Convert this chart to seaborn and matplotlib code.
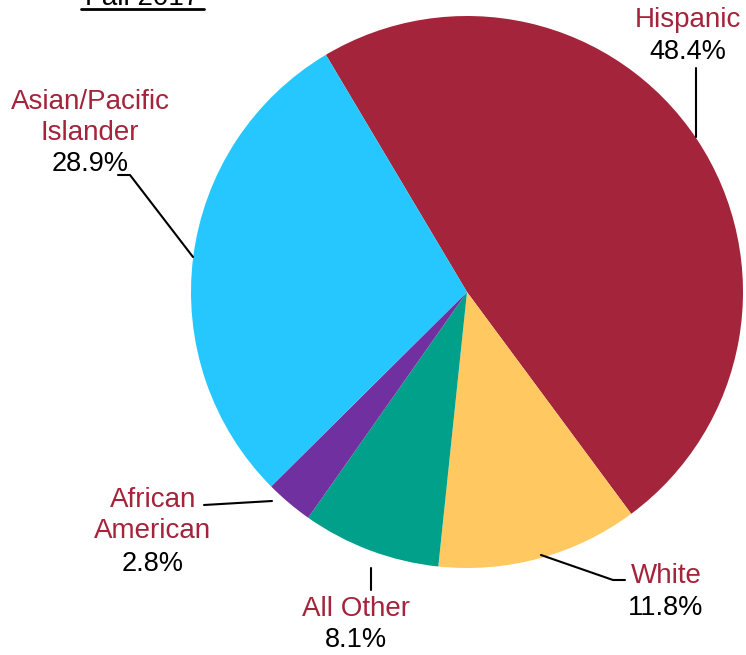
import matplotlib
matplotlib.use("Agg")
import matplotlib.pyplot as plt
import seaborn as sns

# data
groups = ["Hispanic", "White", "All Other", "African\nAmerican", "Asian/Pacific\nIslander"]
shares = [48.4, 11.8, 8.1, 2.8, 28.9]
colors = ["#A3243B", "#FFC861", "#00A08A", "#7030A0", "#26C6FF"]
label_color = "#A3243B"

sns.set_theme(style="white")
plt.rcParams["font.family"] = ["Liberation Sans", "DejaVu Sans"]

W, H = 746, 655
fig = plt.figure(figsize=(W / 100, H / 100), dpi=100)
ax = fig.add_axes([0, 0, 1, 1])

def py(y):
    # pixel row -> data y (y axis points up)
    return H - y

cx, cy, r = 467, py(292), 276
ax.pie(shares, colors=colors, startangle=120.75, counterclock=False,
       center=(cx, cy), radius=r, wedgeprops=dict(linewidth=0))
ax.set_xlim(0, W)
ax.set_ylim(0, H)
ax.set_aspect("equal")
ax.axis("off")

# title (cut off at the top in the original)
ax.text(142, py(5), "Fall 2017", ha="center", va="baseline", fontsize=20, color="black")
ax.plot([81, 204], [py(9), py(9)], color="black", lw=2)

# labels: (x, y of first name line, y of pct)
lab = [
    (688, 20, 52),
    (666, 576, 608),
    (356, 609, 640),
    (153, 500, 564),
    (90, 102, 164),
]
step = 31
for g, s, (x, yn, yp) in zip(groups, shares, lab):
    for i, line in enumerate(g.split("\n")):
        ax.text(x, py(yn + i * step), line, ha="center", va="center",
                fontsize=20, color=label_color)
    ax.text(x, py(yp), f"{s}%", ha="center", va="center", fontsize=19.5, color="black")

# leader lines
lines = [
    [(696, 68), (696, 137)],
    [(541, 555), (613, 580), (625, 580)],
    [(371, 568), (371, 590)],
    [(204, 505), (272, 501)],
    [(118, 175), (130, 175), (193, 257)],
]
for pts in lines:
    xs = [p[0] for p in pts]
    ys = [py(p[1]) for p in pts]
    ax.plot(xs, ys, color="black", lw=1.5)

fig.savefig("out.png", dpi=100, facecolor="white")
